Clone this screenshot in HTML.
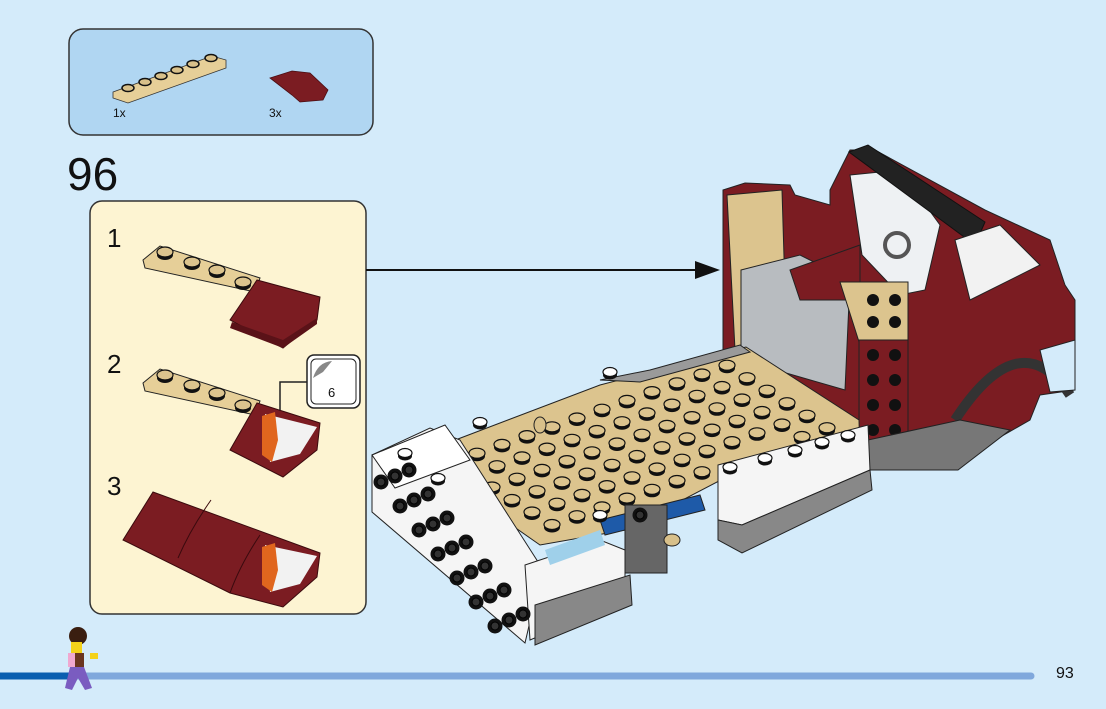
<!DOCTYPE html>
<html><head><meta charset="utf-8"><style>
html,body{margin:0;padding:0}
body{width:1106px;height:709px;background:#d4ebfa;position:relative;overflow:hidden;font-family:"Liberation Sans",sans-serif}
.t{position:absolute;color:#111}
</style></head><body>
<svg id="s" width="1106" height="709" style="position:absolute;left:0;top:0">
<defs>
<g id="st"><ellipse cx="0" cy="3" rx="8" ry="5" fill="#111"/><ellipse cx="0" cy="0" rx="8" ry="5" fill="#dcc48e" stroke="#111" stroke-width="1.2"/></g>
<g id="ws"><ellipse cx="0" cy="3" rx="7" ry="4.5" fill="#111"/><ellipse cx="0" cy="0" rx="7" ry="4.5" fill="#fff" stroke="#111" stroke-width="1.2"/></g>
<g id="bs"><circle r="7.5" fill="#111"/><circle r="4" fill="#333" stroke="#000"/></g>
</defs>
<rect x="69" y="29" width="304" height="106" rx="14" fill="#b0d6f2" stroke="#333" stroke-width="1.5"/>
<polygon points="113,92 212,56 226,60 226,68 128,103 113,98" fill="#e6cf98" stroke="#333" stroke-width=".8"/>
<g fill="#d8c08a" stroke="#111" stroke-width="1.5">
<ellipse cx="128" cy="88" rx="6" ry="3.5"/><ellipse cx="145" cy="82" rx="6" ry="3.5"/><ellipse cx="161" cy="76" rx="6" ry="3.5"/><ellipse cx="177" cy="70" rx="6" ry="3.5"/><ellipse cx="193" cy="64" rx="6" ry="3.5"/><ellipse cx="211" cy="58" rx="6" ry="3.5"/></g>
<polygon points="270,78 292,71 310,73 328,90 323,100 300,102 292,95" fill="#7b1c22" stroke="#4a0d12" stroke-width=".8"/>
<rect x="90" y="201" width="276" height="413" rx="12" fill="#fdf4d2" stroke="#333" stroke-width="1.5"/>
<polygon points="143,260 160,246 260,278 255,292 145,268" fill="#e6cf98" stroke="#222"/>
<use href="#st" x="165" y="252"/><use href="#st" x="192" y="262"/><use href="#st" x="217" y="270"/><use href="#st" x="243" y="282"/>
<polygon points="230,320 257,280 320,297 317,320 283,348" fill="#7b1c22" stroke="#3a0a0e"/>
<polygon points="232,322 283,340 317,318 317,324 283,348 230,328" fill="#5a1218"/>
<polygon points="143,383 160,369 260,401 255,415 145,391" fill="#e6cf98" stroke="#222"/>
<use href="#st" x="165" y="375"/><use href="#st" x="192" y="385"/><use href="#st" x="217" y="393"/><use href="#st" x="243" y="405"/>
<polygon points="230,450 257,403 320,423 317,450 283,477" fill="#7b1c22" stroke="#3a0a0e"/>
<polygon points="265,414 317,427 300,454 270,462" fill="#f2f2f2"/><polygon points="262,416 275,412 278,440 272,462 262,455" fill="#e0661e"/>
<rect x="307" y="355" width="53" height="53" rx="7" fill="#fff" stroke="#222" stroke-width="1.5"/>
<rect x="311" y="359" width="45" height="45" rx="5" fill="#fff" stroke="#222"/>
<path d="M313,378 Q318,362 332,361 L323,372 Z" fill="#888"/>
<polyline points="307,382 280,382 280,410" fill="none" stroke="#222" stroke-width="1.5"/>
<polygon points="123,540 153,492 320,553 317,577 283,607 230,593" fill="#7b1c22" stroke="#3a0a0e"/>
<path d="M178,558 Q190,530 211,500 M230,593 Q240,565 260,535" stroke="#3a0a0e" fill="none"/>
<polygon points="265,545 317,556 300,584 270,592" fill="#f2f2f2"/><polygon points="262,547 275,543 278,570 272,592 262,585" fill="#e0661e"/>
<line x1="366" y1="270" x2="700" y2="270" stroke="#111" stroke-width="2"/>
<polygon points="720,270 695,261 695,279" fill="#111"/>
<polygon points="723,190 745,183 790,185 795,195 830,205 830,190 850,150 875,150 985,210 1050,240 1065,285 1075,300 1075,390 1040,395 1030,420 960,460 868,470 723,390" fill="#7b1c22" stroke="#222"/>
<polygon points="727,195 782,190 785,290 800,300 790,350 735,350" fill="#dcc48e" stroke="#222"/>
<polygon points="741,270 800,255 850,280 845,390 741,360" fill="#b8bcc0" stroke="#222"/>
<polygon points="790,270 860,245 860,300 800,300" fill="#7b1c22" stroke="#222"/>
<polygon points="850,175 900,170 940,225 925,290 900,295 862,255" fill="#eef1f3" stroke="#222"/>
<polygon points="849,152 868,145 985,222 975,245" fill="#222" stroke="#111"/>
<circle cx="897" cy="245" r="12" fill="none" stroke="#555" stroke-width="4"/>
<polygon points="955,240 1000,225 1040,265 970,300" fill="#f2f2f2" stroke="#222"/>
<polygon points="840,282 908,282 908,340 860,345" fill="#dcc48e" stroke="#222"/>
<polygon points="859,340 908,340 908,440 868,445 859,430" fill="#7b1c22" stroke="#222"/>
<g><circle cx="873" cy="300" r="6" fill="#111"/><circle cx="895" cy="300" r="6" fill="#111"/><circle cx="873" cy="322" r="6" fill="#111"/><circle cx="895" cy="322" r="6" fill="#111"/>
<circle cx="873" cy="355" r="6" fill="#111"/><circle cx="895" cy="355" r="6" fill="#111"/><circle cx="873" cy="380" r="6" fill="#111"/><circle cx="895" cy="380" r="6" fill="#111"/><circle cx="873" cy="405" r="6" fill="#111"/><circle cx="895" cy="405" r="6" fill="#111"/><circle cx="873" cy="430" r="6" fill="#111"/><circle cx="895" cy="430" r="6" fill="#111"/></g>
<path d="M955,420 Q1020,320 1070,395" fill="none" stroke="#333" stroke-width="10"/>
<polygon points="1040,350 1075,340 1075,390 1050,392" fill="#d4ebfa" stroke="#222"/>
<polygon points="868,440 960,420 1010,430 958,470 868,470" fill="#777" stroke="#222"/>
<polygon points="429,450 600,385 746,347 859,420 860,460 740,470 625,530 540,545 440,475" fill="#dcc48e" stroke="#222"/>
<polygon points="600,380 650,370 740,345 750,352 640,382" fill="#9a9a9a" stroke="#222"/>
<g id="studs"></g>
<polygon points="600,520 700,495 705,510 605,535" fill="#1e5aa8" stroke="#222"/>
<rect x="625" y="505" width="42" height="68" fill="#666" stroke="#222"/>
<use href="#bs" x="640" y="515"/><ellipse cx="672" cy="540" rx="8" ry="6" fill="#d8c08a" stroke="#222"/>
<ellipse cx="540" cy="425" rx="6" ry="8" fill="#d8c08a" stroke="#222"/>
<polygon points="372,455 430,428 460,440 540,565 535,600 525,643 372,512" fill="#f5f5f5" stroke="#222"/>
<polygon points="372,455 445,425 470,460 395,488" fill="#fff" stroke="#222"/>
<polygon points="525,565 600,540 625,550 625,600 530,640" fill="#f5f5f5" stroke="#222"/>
<polygon points="535,605 630,575 632,605 535,645" fill="#888" stroke="#222"/>
<polygon points="545,550 600,530 605,545 550,565" fill="#9fd0ea"/>
<polygon points="718,465 868,425 870,470 742,525 718,520" fill="#f5f5f5" stroke="#222"/>
<polygon points="718,520 742,525 870,470 872,490 742,553 718,540" fill="#888" stroke="#222"/>
<use href="#ws" x="730" y="467"/><use href="#ws" x="765" y="458"/><use href="#ws" x="795" y="450"/><use href="#ws" x="822" y="442"/><use href="#ws" x="848" y="435"/>
<use href="#ws" x="610" y="372"/><use href="#ws" x="480" y="422"/><use href="#ws" x="405" y="453"/><use href="#ws" x="438" y="478"/>
<use href="#ws" x="600" y="515"/>
<g id="bl"></g>
<line x1="1" y1="676" x2="1031" y2="676" stroke="#80a8dc" stroke-width="7" stroke-linecap="round"/>
<line x1="0" y1="676" x2="70" y2="676" stroke="#0a5fb0" stroke-width="7"/>
<ellipse cx="78" cy="636" rx="9" ry="9" fill="#3a1e10"/>
<rect x="71" y="642" width="11" height="12" fill="#f4d21a"/>
<rect x="68" y="653" width="16" height="14" fill="#f0a8d0"/>
<rect x="75" y="653" width="9" height="14" fill="#6a3520"/>
<rect x="90" y="653" width="8" height="6" fill="#f4d21a"/>
<polygon points="70,667 84,667 92,688 85,690 78,678 72,690 65,688" fill="#7a5cc0"/>
</svg>
<script>
var ns="http://www.w3.org/2000/svg",g=document.getElementById("studs");
function u(p,x,y,id){var e=document.createElementNS(ns,"use");e.setAttribute("href","#"+id);e.setAttribute("x",x);e.setAttribute("y",y);p.appendChild(e);}
for(var i=0;i<12;i++)for(var j=0;j<6;j++){var x=452+i*25+j*20,y=462-i*8.8+j*12.5;if(x>850||(x>720&&y>445)||x<445)continue;u(g,x,y,"st");}
var b=document.getElementById("bl");
for(var i=0;i<7;i++)for(var j=0;j<3;j++){u(b,381+i*19+j*14,482+i*24-j*6,"bs");}
</script>
<div class="t" style="left:113px;top:106px;font-size:12px">1x</div>
<div class="t" style="left:269px;top:106px;font-size:12px">3x</div>
<div class="t" style="left:67px;top:148px;font-size:46px;line-height:52px">96</div>
<div class="t" style="left:107px;top:223px;font-size:26px">1</div>
<div class="t" style="left:107px;top:349px;font-size:26px">2</div>
<div class="t" style="left:107px;top:471px;font-size:26px">3</div>
<div class="t" style="left:328px;top:385px;font-size:13px">6</div>
<div class="t" style="left:1056px;top:665px;font-size:16px">93</div>
</body></html>
